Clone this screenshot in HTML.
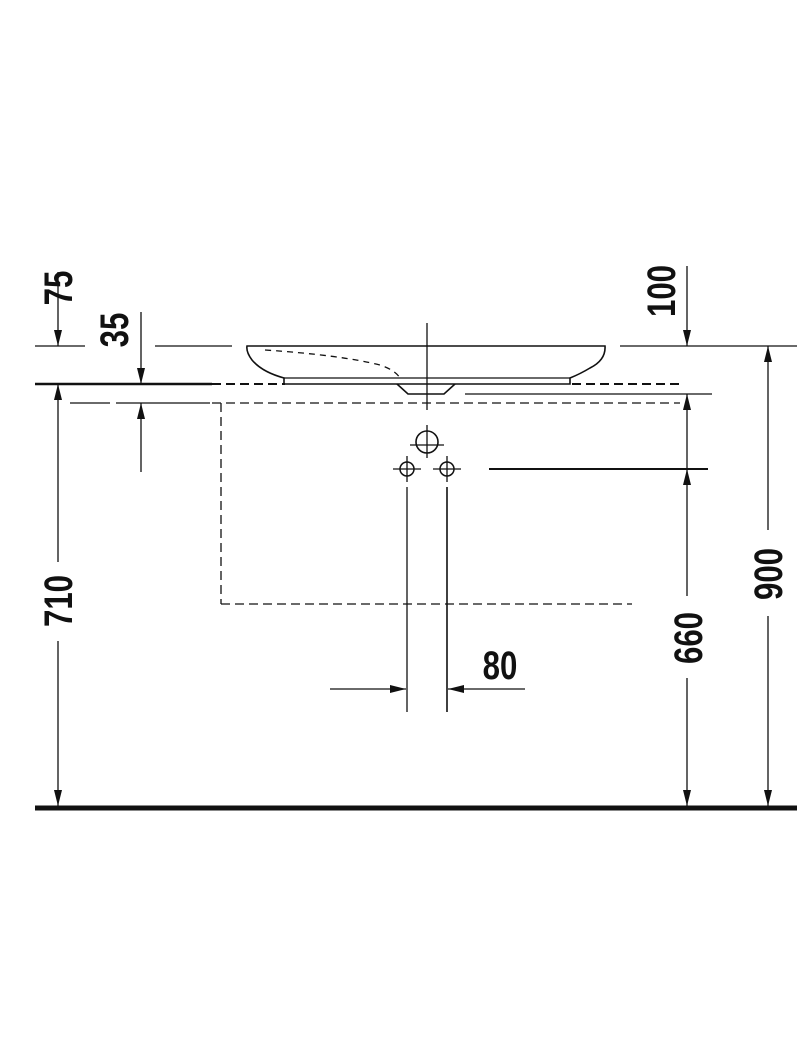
<!DOCTYPE html>
<html><head><style>html,body{margin:0;padding:0;background:#fff}svg{display:block}
text{font-family:"Liberation Sans",sans-serif;font-weight:bold;font-size:40px;fill:#111}</style></head>
<body>
<svg width="800" height="1058" viewBox="0 0 800 1058" xmlns="http://www.w3.org/2000/svg">
<defs>
<marker id="a" viewBox="0 0 16 8" refX="16" refY="4" markerWidth="16" markerHeight="8" markerUnits="userSpaceOnUse" orient="auto"><path d="M0,0 L16,4 L0,8 z" fill="#111"/></marker>
</defs>
<g stroke="#111" fill="none" stroke-width="1.3">
<line x1="35" y1="346" x2="85" y2="346"/>
<line x1="155" y1="346" x2="232" y2="346"/>
<line x1="620" y1="346" x2="797" y2="346"/>
<line x1="35" y1="384" x2="212" y2="384" stroke-width="2.6"/>
<line x1="212" y1="384" x2="285" y2="384" stroke-dasharray="9,5" stroke-width="2"/>
<line x1="572" y1="384" x2="680" y2="384" stroke-dasharray="9,5" stroke-width="2"/>
<line x1="70" y1="403" x2="110" y2="403"/>
<line x1="116" y1="403" x2="210" y2="403"/>
<line x1="212" y1="403" x2="680" y2="403" stroke-dasharray="9,5"/>
<line x1="465" y1="394" x2="712" y2="394"/>
<line x1="221" y1="403" x2="221" y2="604" stroke-dasharray="9,5"/>
<line x1="221" y1="604" x2="632" y2="604" stroke-dasharray="9,5"/>
<path d="M247,346 L605,346 Q606,360 590,368 Q580,374 570,378 L570,384 L284,384 L284,378 Q262,372 252,360 Q246,352 247,346 Z" stroke-width="1.6"/>
<line x1="284" y1="378" x2="570" y2="378"/>
<path d="M397,384 L408,394 L444,394 L455,384" stroke-width="1.6"/>
<path d="M265,350 Q340,355 380,365 Q395,370 400,378" stroke-dasharray="6,5"/>
<line x1="427" y1="323" x2="427" y2="410"/>
<circle cx="427" cy="442" r="11" stroke-width="1.6"/>
<line x1="410" y1="445" x2="444" y2="445"/><line x1="427" y1="425" x2="427" y2="458"/>
<circle cx="407" cy="469" r="7" stroke-width="1.5"/>
<line x1="393" y1="469" x2="421" y2="469"/><line x1="407" y1="456" x2="407" y2="482"/>
<circle cx="447" cy="469" r="7" stroke-width="1.5"/>
<line x1="433" y1="469" x2="461" y2="469"/><line x1="447" y1="456" x2="447" y2="482"/>
<line x1="489" y1="469" x2="708" y2="469" stroke-width="2"/>
<line x1="407" y1="487" x2="407" y2="712"/>
<line x1="447" y1="487" x2="447" y2="712" stroke-width="1.6"/>
<line x1="35" y1="808" x2="797" y2="808" stroke-width="5"/>
<line x1="58" y1="272" x2="58" y2="346" marker-end="url(#a)"/>
<line x1="58" y1="562" x2="58" y2="384" marker-end="url(#a)"/>
<line x1="58" y1="641" x2="58" y2="806" marker-end="url(#a)"/>
<line x1="141" y1="312" x2="141" y2="384" marker-end="url(#a)"/>
<line x1="141" y1="472" x2="141" y2="403" marker-end="url(#a)"/>
<line x1="687" y1="266" x2="687" y2="346" marker-end="url(#a)"/>
<line x1="687" y1="469" x2="687" y2="394" marker-end="url(#a)"/>
<line x1="687" y1="596" x2="687" y2="469" marker-end="url(#a)"/>
<line x1="687" y1="678" x2="687" y2="806" marker-end="url(#a)"/>
<line x1="768" y1="530" x2="768" y2="346" marker-end="url(#a)"/>
<line x1="768" y1="616" x2="768" y2="806" marker-end="url(#a)"/>
<line x1="330" y1="689" x2="406" y2="689" marker-end="url(#a)"/>
<line x1="525" y1="689" x2="448" y2="689" marker-end="url(#a)"/>
</g>
<g>
<text transform="translate(72,288) rotate(-90) scale(0.78,1)" text-anchor="middle">75</text>
<text transform="translate(128,330) rotate(-90) scale(0.78,1)" text-anchor="middle">35</text>
<text transform="translate(675,291) rotate(-90) scale(0.78,1)" text-anchor="middle">100</text>
<text transform="translate(72,601) rotate(-90) scale(0.78,1)" text-anchor="middle">710</text>
<text transform="translate(702,638) rotate(-90) scale(0.78,1)" text-anchor="middle">660</text>
<text transform="translate(782,574) rotate(-90) scale(0.78,1)" text-anchor="middle">900</text>
<text transform="translate(500,679) scale(0.78,1)" text-anchor="middle">80</text>
</g>
</svg>
</body></html>
